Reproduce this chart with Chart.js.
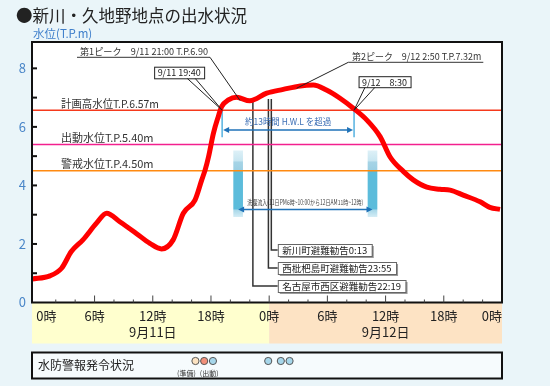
<!DOCTYPE html>
<html><head><meta charset="utf-8">
<script src="https://cdn.jsdelivr.net/npm/chart.js@4/dist/chart.umd.min.js"></script>
<style>
html,body{margin:0;padding:0;background:#EAF5F9;}
#wrap{position:relative;width:550px;height:386px;}
canvas{display:block;}
</style></head><body>
<div id="wrap"><canvas id="c" width="550" height="386"></canvas></div>
<script>
// ---- data (hours counted from 9/11 0:00) ----
const hours  = [-0.45, 1.4, 2.6, 3.6, 4.8, 6.2, 7.25, 8.6, 10.3, 11.7, 12.9, 14.1, 15.15, 16.35, 17.05, 17.4, 17.75, 18.25, 18.75, 19.1, 19.8, 20.65, 22.0, 23.75, 25.45, 27.2, 28.55, 29.9, 31.3, 32.7, 34.05, 35.45, 36.45, 37.85, 38.85, 40.25, 41.6, 42.65, 44.0, 45.75, 46.75, 47.8];
const levels = [0.80, 0.91, 1.17, 1.74, 2.14, 2.71, 3.05, 2.76, 2.36, 2.02, 1.83, 2.14, 3.05, 3.50, 4.19, 4.53, 4.98, 5.78, 6.35, 6.69, 6.92, 7.01, 6.89, 7.15, 7.28, 7.40, 7.43, 7.26, 6.98, 6.63, 6.24, 5.66, 4.98, 4.47, 4.19, 3.94, 3.87, 3.84, 3.67, 3.44, 3.25, 3.18];

const hourTicks  = [0, 6, 12, 18, 24, 30, 36, 42, 48];
const hourLabels = ['0時','6時','12時','18時','0時','6時','12時','18時','0時'];
const dayTicks   = [12, 36];
const dayLabels  = ['9月11日','9月12日'];
const levelTicks = [0, 2, 4, 6, 8];

const thresholdNames  = ['計画高水位T.P.6.57m','出動水位T.P.5.40m','警戒水位T.P.4.50m'];
const thresholdLevels = [6.57, 5.40, 4.50];

const peakTexts  = ['第1ピーク　9/11 21:00 T.P.6.90','第2ピーク　9/12 2:50 T.P.7.32m'];
const peakHours  = [21.0, 26.83];
const peakLevels = [6.90, 7.32];

const hwlCrossHours = [19.15, 32.75];
const hwlCrossTexts = ['9/11 19:40','9/12　8:30'];
const hwlText = '約13時間 H.W.L を超過';

const inflowStart = [20.3, 34.2];
const inflowEnd   = [21.3, 35.1];
const inflowLow = 2.93, inflowHigh = 5.18;
const inflowText = '洗堰流入(11日PM6時~10:00から12日AM11時~12時)';

const evacHours = [24.22, 23.92, 22.32];
const evacNames = ['新川町避難勧告0:13','西枇杷島町避難勧告23:55','名古屋市西区避難勧告22:19'];

const warnHours = [16.4, 17.3, 18.2, 23.9, 25.2, 26.1];
const warnKinds = [0, 1, 2, 2, 2, 2];
const warnNotes = ['(準備)','(出動)'];

// ---- styles ----
const FONT = "'Noto Sans CJK JP','Noto Sans',sans-serif";
Chart.defaults.font.family = FONT;
const X_MIN = -0.45, X_MAX = 48, Y_MIN = 0, Y_MAX = 8.9;
const thresholdColors = ['#F5391C','#F3208E','#FF8A10'];
const warnColors = ['#FCE3C2','#F2907A','#A6D6EA'];

function font(px){ return px + 'px ' + FONT; }
function hArrow(ctx, x1, x2, y, color){
  ctx.save();
  ctx.strokeStyle = color; ctx.fillStyle = color; ctx.lineWidth = 1.5;
  ctx.beginPath(); ctx.moveTo(x1 + 3, y); ctx.lineTo(x2 - 3, y); ctx.stroke();
  ctx.beginPath(); ctx.moveTo(x1, y); ctx.lineTo(x1 + 6, y - 3); ctx.lineTo(x1 + 6, y + 3); ctx.closePath(); ctx.fill();
  ctx.beginPath(); ctx.moveTo(x2, y); ctx.lineTo(x2 - 6, y - 3); ctx.lineTo(x2 - 6, y + 3); ctx.closePath(); ctx.fill();
  ctx.restore();
}
function line(ctx, pts, color, w){
  ctx.save(); ctx.strokeStyle = color; ctx.lineWidth = w;
  ctx.beginPath(); ctx.moveTo(pts[0][0], pts[0][1]);
  for (let i = 1; i < pts.length; i++) ctx.lineTo(pts[i][0], pts[i][1]);
  ctx.stroke(); ctx.restore();
}
function text(ctx, s, x, y, px, color, align, maxW){
  ctx.save(); ctx.font = font(px); ctx.fillStyle = color;
  ctx.textAlign = align || 'left'; ctx.textBaseline = 'middle';
  if (maxW) ctx.fillText(s, x, y, maxW); else ctx.fillText(s, x, y);
  ctx.restore();
}
function box(ctx, x, y, w, h, shadow){
  ctx.save();
  if (shadow){ ctx.fillStyle = '#9a9a9a'; ctx.fillRect(x + 2, y + 2, w, h); }
  ctx.fillStyle = '#fff'; ctx.fillRect(x, y, w, h);
  ctx.strokeStyle = shadow ? '#666' : '#222'; ctx.lineWidth = 1;
  ctx.strokeRect(x + 0.5, y + 0.5, w, h);
  ctx.restore();
}

const deco = {
  id: 'deco',
  beforeDraw(chart){
    const {ctx, chartArea: a, scales: {x}} = chart;
    ctx.save();
    ctx.fillStyle = '#fff'; ctx.fillRect(a.left, a.top, a.right - a.left, a.bottom - a.top);
    const mid = x.getPixelForValue(24);
    ctx.fillStyle = '#FFFFCE'; ctx.fillRect(a.left, a.bottom, mid - a.left, 41);
    ctx.fillStyle = '#FDE3C4'; ctx.fillRect(mid, a.bottom, a.right - mid, 41);
    ctx.restore();
  },
  beforeDatasetsDraw(chart){
    const {ctx, chartArea: a, scales: {x, y}} = chart;
    // evacuation advisories
    evacHours.forEach((h, i) => {
      const px = x.getPixelForValue(h);
      const by = a.bottom - 52.5 + i * 18;
      line(ctx, [[px, y.getPixelForValue(6.95)], [px, by], [x.getPixelForValue(evacHours[0]) + 6.5, by]], '#333', 1.5);
    });
    // HWL bracket verticals
    hwlCrossHours.forEach(h => {
      const px = x.getPixelForValue(h);
      line(ctx, [[px, y.getPixelForValue(thresholdLevels[0])], [px, y.getPixelForValue(5.65)]], '#55B2E0', 1.5);
    });
  },
  afterDatasetsDraw(chart){
    const {ctx, chartArea: a, scales: {x, y}} = chart;
    const X = v => x.getPixelForValue(v), Y = v => y.getPixelForValue(v);
    // frame
    ctx.save(); ctx.strokeStyle = '#111'; ctx.lineWidth = 2;
    ctx.strokeRect(a.left, a.top, a.right - a.left, a.bottom - a.top); ctx.restore();
    // y ticks
    for (let v = 1; v <= 8; v++) line(ctx, [[a.left, Y(v)], [a.left + 5, Y(v)]], '#111', 2);
    // x ticks
    for (let h = 2; h < 48; h += 2) {
      const len = h % 6 === 0 ? 7 : 3;
      line(ctx, [[X(h), a.bottom], [X(h), a.bottom - len]], '#444', 1);
    }
    // threshold labels
    thresholdNames.forEach((n, i) => text(ctx, n, a.left + 29, Y(thresholdLevels[i]) - 6.5, 11, '#333', 'left', 98));
    // HWL bracket
    const c1 = X(hwlCrossHours[0]), c2 = X(hwlCrossHours[1]);
    hArrow(ctx, c1 + 1, c2 - 1, Y(5.89), '#1F72B8');
    text(ctx, hwlText, (c1 + c2) / 2, Y(6.18), 9, '#3D6FB5', 'center', 86);
    // inflow arrow
    const i1 = X((inflowStart[0] + inflowEnd[0]) / 2), i2 = X((inflowStart[1] + inflowEnd[1]) / 2);
    hArrow(ctx, i1, i2, Y(3.18), '#1F72B8');
    text(ctx, inflowText, (i1 + i2) / 2, Y(3.41), 7, '#444', 'center', 116);
    // evacuation boxes
    evacNames.forEach((n, i) => {
      const by = a.bottom - 52.5 + i * 18;
      ctx.save(); ctx.font = font(9.5); const w = ctx.measureText(n).width + 9; ctx.restore();
      const bx = X(evacHours[0]) + 6.5;
      box(ctx, bx, by - 6, w, 12, true);
      text(ctx, n, bx + 4.5, by + 0.5, 9.5, '#222');
    });
    // peak labels
    const pk = [[77, 210, 57.3, 80], [348.3, 483.3, 62.3, 352]];
    peakTexts.forEach((t, i) => {
      const [u1, u2, uy, tx] = pk[i];
      text(ctx, t, tx, uy - 5.5, 9.5, '#333', 'left', u2 - tx - 2);
      const lead = i === 0 ? u2 : u1;
      line(ctx, [[u1, uy], [u2, uy]], '#333', 1);
      line(ctx, [[lead, uy], [X(peakHours[i]), Y(peakLevels[i])]], '#222', 1);
    });
    // HWL crossing call-outs
    const ay = Y(thresholdLevels[0]);
    const cb = [[-68, -43.5, 50, 11.6, -35, -27], [4.5, -34, 52, 11, 11, 21]];
    hwlCrossHours.forEach((h, i) => {
      const ax = X(h);
      const [dx, dy, w, hh, t1, t2] = cb[i];
      line(ctx, [[ax + t1, ay + dy + hh], [ax, ay], [ax + t2, ay + dy + hh]], '#222', 1);
      box(ctx, ax + dx, ay + dy, w, hh, false);
      text(ctx, hwlCrossTexts[i], ax + dx + w / 2, ay + dy + hh / 2 + 0.5, 9, '#222', 'center', w - 6);
    });
  },
  afterDraw(chart){
    const {ctx, chartArea: a, scales: {x}} = chart;
    text(ctx, '●新川・久地野地点の出水状況', 16, 16, 17, '#222', 'left', 231);
    text(ctx, '水位(T.P.m)', 33, 34, 11.5, '#3F7FCB', 'left', 67);
    // warning status box
    const by = a.bottom + 50, bh = 26;
    ctx.save();
    ctx.fillStyle = '#F6FBFD'; ctx.fillRect(a.left, by, a.right - a.left, bh);
    ctx.strokeStyle = '#111'; ctx.lineWidth = 2; ctx.strokeRect(a.left, by, a.right - a.left, bh);
    ctx.restore();
    text(ctx, '水防警報発令状況', a.left + 6, by + 13, 12, '#222', 'left', 96);
    warnHours.forEach((h, i) => {
      ctx.save();
      ctx.beginPath(); ctx.arc(x.getPixelForValue(h), by + 8.5, 3.6, 0, Math.PI * 2);
      ctx.fillStyle = warnColors[warnKinds[i]]; ctx.fill();
      ctx.strokeStyle = '#555'; ctx.lineWidth = 1; ctx.stroke();
      ctx.restore();
    });
    text(ctx, warnNotes[0], x.getPixelForValue(warnHours[0]) - 9, by + 20.5, 7, '#333', 'center');
    text(ctx, warnNotes[1], x.getPixelForValue(warnHours[1]) + 5, by + 20.5, 7, '#333', 'center');
  }
};

const datasets = [
  {
    type: 'line', label: '水位',
    data: hours.map((h, i) => ({x: h, y: levels[i]})),
    borderColor: '#FF0000', borderWidth: 5, pointRadius: 0,
    cubicInterpolationMode: 'monotone', order: 0
  },
  ...thresholdLevels.map((v, i) => ({
    type: 'line', label: thresholdNames[i],
    data: [{x: X_MIN, y: v}, {x: X_MAX, y: v}],
    borderColor: thresholdColors[i], borderWidth: 1.6, pointRadius: 0, order: 2
  })),
  {
    type: 'bar', label: '洗堰流入',
    data: inflowStart.map((s, i) => ({x: (s + inflowEnd[i]) / 2, y: [inflowLow, inflowHigh]})),
    barThickness: 9, order: 3,
    backgroundColor: (c) => {
      const ch = c.chart; if (!ch.chartArea) return '#5CBCDB';
      const ys = ch.scales.y;
      const g = ch.ctx.createLinearGradient(0, ys.getPixelForValue(inflowHigh), 0, ys.getPixelForValue(inflowLow));
      g.addColorStop(0, '#DDF0F7'); g.addColorStop(0.15, '#C8E6F1');
      g.addColorStop(0.17, '#A6D4E6'); g.addColorStop(0.29, '#9CCFE3');
      g.addColorStop(0.30, '#5CBCDB'); g.addColorStop(0.88, '#5CBCDB');
      g.addColorStop(0.90, '#A9D8E9'); g.addColorStop(1, '#D3ECF5');
      return g;
    }
  }
];

new Chart(document.getElementById('c'), {
  type: 'line',
  data: {datasets},
  plugins: [deco],
  options: {
    responsive: false, animation: false, devicePixelRatio: 1, events: [],
    layout: {autoPadding: false, padding: {top: 42, right: 48, bottom: 0, left: 0}},
    plugins: {legend: {display: false}, tooltip: {enabled: false}},
    scales: {
      x: {
        type: 'linear', min: X_MIN, max: X_MAX, offset: false, position: 'bottom', weight: 0,
        afterBuildTicks: s => { s.ticks = hourTicks.map(v => ({value: v})); },
        afterFit: s => { s.height = 20; },
        grid: {display: false, drawTicks: false}, border: {display: false},
        ticks: {autoSkip: false, maxRotation: 0, align: 'inner', padding: 6, color: '#222',
                font: {size: 13}, callback: (v, i) => hourLabels[i]}
      },
      x2: {
        type: 'linear', min: X_MIN, max: X_MAX, offset: false, position: 'bottom', weight: 1,
        afterBuildTicks: s => { s.ticks = dayTicks.map(v => ({value: v})); },
        afterFit: s => { s.height = 63.5; },
        grid: {display: false, drawTicks: false}, border: {display: false},
        ticks: {autoSkip: false, maxRotation: 0, padding: 2, color: '#222',
                font: {size: 13}, callback: (v, i) => dayLabels[i]}
      },
      y: {
        type: 'linear', min: Y_MIN, max: Y_MAX,
        afterBuildTicks: s => { s.ticks = levelTicks.map(v => ({value: v})); },
        afterFit: s => { s.width = 32; },
        grid: {display: false, drawTicks: false}, border: {display: false},
        ticks: {padding: 6, color: '#4A86C8', font: {size: 13}}
      }
    }
  }
});
</script>
</body></html>
